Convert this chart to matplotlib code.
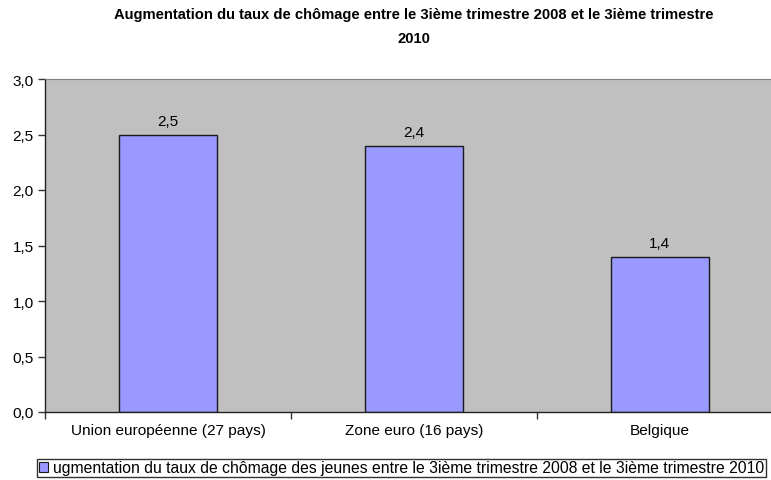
import matplotlib.pyplot as plt
import numpy as np
from matplotlib.patches import Patch

plt.rcParams["font.family"] = ["Liberation Sans", "DejaVu Sans"]

# Data
categories = ["Union européenne (27 pays)", "Zone euro (16 pays)", "Belgique"]
values = [2.5, 2.4, 1.4]
value_labels = ["2,5", "2,4", "1,4"]
y_ticks = [0.0, 0.5, 1.0, 1.5, 2.0, 2.5, 3.0]
y_tick_labels = ["0,0", "0,5", "1,0", "1,5", "2,0", "2,5", "3,0"]

title = ("Augmentation du taux de chômage entre le 3ième trimestre 2008 et le 3ième trimestre\n"
         "2010")
legend_label = ("ugmentation du taux de chômage des jeunes entre le 3ième trimestre 2008 "
                "et le 3ième trimestre 2010")

BAR_COLOR = "#9999FF"
PLOT_BG = "#C0C0C0"
FS = 11.1

W, H = 771, 481
fig = plt.figure(figsize=(W / 100, H / 100), dpi=100)
# plot area runs past the right edge, like the original export
left, right, top, bottom = 45, 783, 80, 413
ax = fig.add_axes([left / W, 1 - bottom / H, (right - left) / W, (bottom - top) / H])
ax.set_facecolor(PLOT_BG)

x = np.arange(len(categories))
ax.bar(x, values, width=0.4, color=BAR_COLOR, edgecolor="#1a1a1a", linewidth=1.0, zorder=2)
for xi, v, lab in zip(x, values, value_labels):
    ax.text(xi, v + 0.06, lab, ha="center", va="bottom", fontsize=FS)

ax.set_xlim(-0.5, len(categories) - 0.5)
ax.set_ylim(0, 3.0)
ax.set_yticks(y_ticks)
ax.set_yticklabels(y_tick_labels, fontsize=FS)
ax.tick_params(axis="y", length=5, width=1, color="#333333", pad=3)

# category boundary ticks, labels centred in each category
ax.set_xticks(np.arange(len(categories) + 1) - 0.5)
ax.set_xticklabels([])
ax.set_xticks(x, minor=True)
ax.set_xticklabels(categories, minor=True, fontsize=FS)
ax.tick_params(axis="x", which="major", length=5, width=1, color="#333333")
ax.tick_params(axis="x", which="minor", length=0, pad=8)

for side in ["left", "bottom"]:
    ax.spines[side].set_color("#222222")
    ax.spines[side].set_linewidth(1.0)
ax.spines["top"].set_color("#808080")
ax.spines["right"].set_color("#808080")

fig.text((left + right) / 2 / W, 1 - 8 / H, title, ha="center", va="top",
         fontsize=10.6, fontweight="bold", linespacing=1.95)

handle = Patch(facecolor=BAR_COLOR, edgecolor="#1a1a1a", linewidth=0.8)
fig.legend([handle], [legend_label], loc="lower left",
           bbox_to_anchor=(37 / W, 1 - 478 / H), fontsize=11.3, frameon=True,
           fancybox=False, edgecolor="black", borderpad=0.1,
           handlelength=0.6, handleheight=0.6, handletextpad=0.3,
           borderaxespad=0).get_frame().set_linewidth(1.0)

fig.savefig("out.png", dpi=100)
